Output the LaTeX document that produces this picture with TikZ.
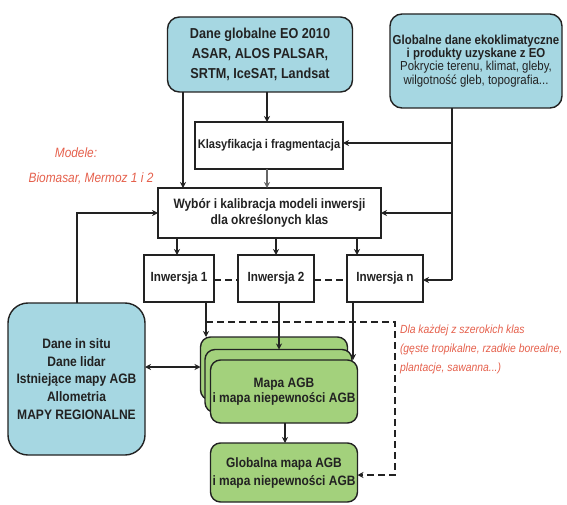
\documentclass[tikz,border=0pt]{standalone}
\usepackage{fontspec}
\setmainfont{Liberation Sans}[FakeStretch=0.88]
\usetikzlibrary{arrows.meta,calc}
\definecolor{bluefill}{HTML}{A6D7E2}
\definecolor{greenfill}{HTML}{A3D17C}
\definecolor{linec}{HTML}{222222}
\definecolor{redtxt}{HTML}{E5604C}
\begin{document}
\begin{tikzpicture}[x=1pt,y=-1pt,
  every node/.style={inner sep=0pt,outer sep=0pt,align=center,text=linec},
  bluebox/.style={draw=linec,line width=1.4pt,fill=bluefill,rounded corners=12pt},
  greenbox/.style={draw=linec,line width=1.4pt,fill=greenfill,rounded corners=10pt,minimum width=147pt,minimum height=63pt},
  whitebox/.style={draw=linec,line width=1.4pt,fill=white},
  conn/.style={draw=linec,line width=1.3pt},
  arr/.style={conn,-{Stealth[length=6pt,width=6pt]}},
  darr/.style={conn,{Stealth[length=6pt,width=6pt]}-{Stealth[length=6pt,width=6pt]}},
  dsh/.style={conn,dash pattern=on 7pt off 4pt},
  redlabel/.style={text=redtxt,align=left}
]
\useasboundingbox (0,0) rectangle (567,505);

% top boxes
\node[bluebox,minimum width=185pt,minimum height=75pt,font=\fontsize{14.4}{20}\selectfont\bfseries]
  (eo) at (260,54.5) {Dane globalne EO 2010\\ASAR, ALOS PALSAR,\\SRTM, IceSAT, Landsat};
\node[bluebox,minimum width=172pt,minimum height=94pt] (eko) at (476,61)
  {\fontsize{13}{19.5}\selectfont\bfseries Globalne dane ekoklimatyczne\\
   \fontsize{13}{18}\selectfont\bfseries i produkty uzyskane z EO\\
   \fontsize{13}{16.5}\selectfont Pokrycie terenu, klimat, gleby,\\
   \fontsize{13}{16.5}\selectfont wilgotność gleb, topografia...};

% middle boxes
\node[whitebox,minimum width=148pt,minimum height=47pt,font=\fontsize{12.6}{16}\selectfont\bfseries]
  (klas) at (269,145.5) {Klasyfikacja i fragmentacja};
\node[whitebox,minimum width=223pt,minimum height=50pt,font=\fontsize{13.6}{16.5}\selectfont\bfseries]
  (wyb) at (269.5,213) {Wybór i kalibracja modeli inwersji\\dla określonych klas};

\node[whitebox,minimum width=70pt,minimum height=47pt,font=\fontsize{13.3}{15}\selectfont\bfseries]
  (in1) at (179,278.5) {Inwersja 1};
\node[whitebox,minimum width=76pt,minimum height=47pt,font=\fontsize{13.3}{15}\selectfont\bfseries]
  (in2) at (276,278.5) {Inwersja 2};
\node[whitebox,minimum width=76pt,minimum height=47pt,font=\fontsize{13.3}{15}\selectfont\bfseries]
  (in3) at (385,278.5) {Inwersja n};

% left box
\node[bluebox,rounded corners=20pt,minimum width=137pt,minimum height=152pt,font=\fontsize{13.7}{17.8}\selectfont\bfseries]
  (situ) at (76.5,379) {Dane in situ\\Dane lidar\\Istniejące mapy AGB\\Allometria\\MAPY REGIONALNE};

% green stack
\node[greenbox] (g1) at (274,368.5) {};
\node[greenbox] (g2) at (278.5,381) {};
\node[greenbox,font=\fontsize{13.6}{15.5}\selectfont\bfseries] (g3) at (284,391.5) {Mapa AGB\\i mapa niepewności AGB};
\node[greenbox,minimum height=59pt,font=\fontsize{13.6}{18}\selectfont\bfseries] (glob) at (284,472.5) {Globalna mapa AGB\\i mapa niepewności AGB};

% red labels
\node[redlabel,font=\fontsize{13.5}{17}\selectfont\itshape,anchor=center] (mod) at (76,153) {Modele:};
\node[redlabel,font=\fontsize{13.5}{17}\selectfont\itshape,anchor=center] (bio) at (91,178) {Biomasar, Mermoz 1 i 2};
\node[redlabel,font=\fontsize{11.8}{19}\selectfont\itshape,anchor=north west] (dla) at (400,325) {Dla każdej z szerokich klas\\(gęste tropikalne, rzadkie borealne,\\plantacje, sawanna...)};

% connectors from EO box
\draw[arr] (eo.south -| 183,0) -- (wyb.north -| 183,0);
\draw[arr] (eo.south -| klas.north) ++(-2,0) -- ([xshift=-2pt]klas.north);
\draw[arr,draw=gray!80!black] ([xshift=-2pt]klas.south) -- ([xshift=-2pt]klas.south |- wyb.north);

% connectors from eko box
\coordinate (ekb) at (eko.south -| 452,0);
\draw[conn] (ekb) -- (452,280);
\draw[arr] (452,143) -- (klas.east |- 0,143);
\draw[arr] (452,213) -- (wyb.east);
\draw[arr] (452,280) -- (in3.east |- 0,280);

% Wybor to inversions
\draw[arr] (wyb.south -| 177,0) -- (in1.north -| 177,0);
\draw[arr] (wyb.south -| in2.north) -- (in2.north);
\draw[arr] (wyb.south -| 357,0) -- (in3.north -| 357,0);

% dashed links between inversions
\draw[dsh] (in1.east |- 0,280) -- (in2.west |- 0,280);
\draw[dsh] (in2.east |- 0,280) -- (in3.west |- 0,280);

% inversions to stack
\draw[arr] (in1.south -| 206,0) -- (g1.north -| 206,0);
\draw[arr] (in2.south -| 279,0) -- (g2.north -| 279,0);
\draw[arr] (in3.south -| 353,0) -- (353,360);

% left box connectors
\draw[arr] (situ.north -| 77,0) -- (77,213) -- (wyb.west);
\draw[darr] (situ.east |- 0,367) -- (g1.west |- 0,367);

% stack to global
\draw[arr] (g3.south -| 285,0) -- (glob.north -| 285,0);

% dashed loop
\draw[dsh,-{Stealth[length=6pt,width=6pt]}] (206,322) -- (395,322) -- (395,475) -- (glob.east |- 0,475);
\end{tikzpicture}
\end{document}
